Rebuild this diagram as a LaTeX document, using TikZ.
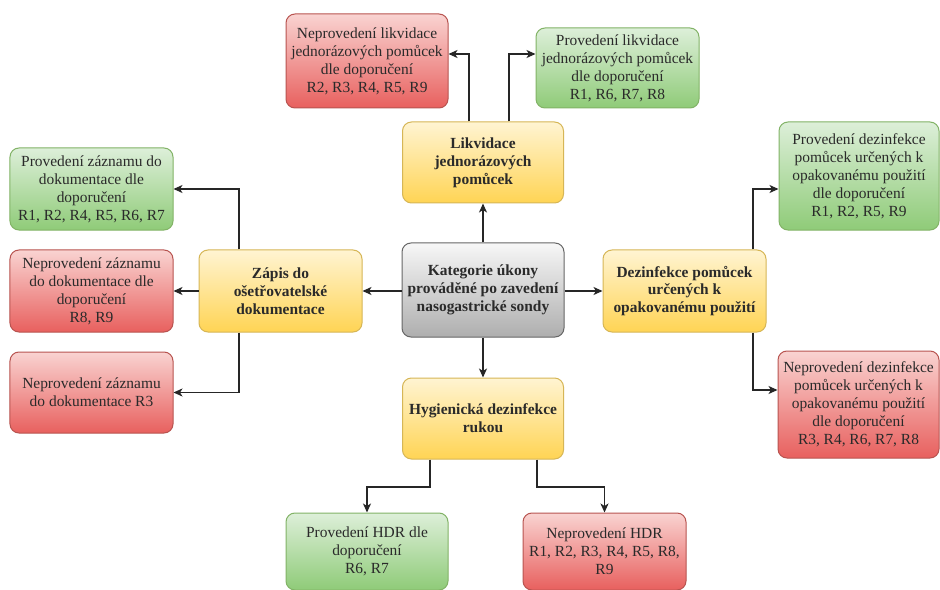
\documentclass[tikz,border=0pt]{standalone}
\usepackage{fontspec}
\setmainfont{Liberation Serif}[BoldFont={Liberation Serif Bold}]
\newfontfamily\tms{Liberation Serif}[BoldFont={Liberation Serif Bold}]
\usetikzlibrary{arrows.meta}
\definecolor{gtop}{HTML}{DDEFD9}
\definecolor{gbot}{HTML}{8FCB78}
\definecolor{gline}{HTML}{82B366}
\definecolor{rtop}{HTML}{F9D3D1}
\definecolor{rbot}{HTML}{E8605E}
\definecolor{rline}{HTML}{B85450}
\definecolor{ytop}{HTML}{FFF4D2}
\definecolor{ybot}{HTML}{FFD454}
\definecolor{yline}{HTML}{D6B656}
\definecolor{ktop}{HTML}{F7F7F7}
\definecolor{kbot}{HTML}{AEAEAE}
\definecolor{kline}{HTML}{666666}
\definecolor{txt}{HTML}{2A2A2A}
\tikzset{
  box/.style={rounded corners=9bp, line width=1bp, align=center, inner sep=1bp,
    text=txt, font=\tms\fontsize{15.5}{18}\selectfont},
  gbox/.style={box, draw=gline, top color=gtop, bottom color=gbot},
  rbox/.style={box, draw=rline, top color=rtop, bottom color=rbot},
  ybox/.style={box, draw=yline, top color=ytop, bottom color=ybot, font=\tms\fontsize{15.5}{18}\selectfont\bfseries},
  kbox/.style={box, draw=kline, top color=ktop, bottom color=kbot, font=\tms\fontsize{15.5}{18}\selectfont\bfseries},
  arr/.style={line width=1.4bp, draw=black!85, -{Stealth[length=9bp,width=8bp,inset=2.5bp]}},
}
\begin{document}
\begin{tikzpicture}[x=1bp,y=-1bp]
\useasboundingbox[fill=white] (0,0) rectangle (940,590);
% nodes
\node[rbox, minimum width=162bp, minimum height=94bp] (topred) at (367,61)
  {Neprovedení likvidace\\jednorázových pomůcek\\dle doporučení\\R2, R3, R4, R5, R9};
\node[gbox, minimum width=163bp, minimum height=80bp] (topgreen) at (617.5,68)
  {Provedení likvidace\\jednorázových pomůcek\\dle doporučení\\R1, R6, R7, R8};
\node[ybox, minimum width=161bp, minimum height=81bp] (lik) at (483,162.5)
  {Likvidace\\jednorázových\\pomůcek};
\node[kbox, minimum width=162bp, minimum height=94bp] (center) at (483,290)
  {Kategorie úkony\\prováděné po zavedení\\nasogastrické sondy};
\node[ybox, minimum width=163bp, minimum height=82bp] (zap) at (280.5,291)
  {Zápis do\\ošetřovatelské\\dokumentace};
\node[gbox, minimum width=163bp, minimum height=82bp] (lgreen) at (91.5,189)
  {Provedení záznamu do\\dokumentace dle\\doporučení\\R1, R2, R4, R5, R6, R7};
\node[rbox, minimum width=163bp, minimum height=82bp] (lred1) at (91.5,291)
  {Neprovedení záznamu\\do dokumentace dle\\doporučení\\R8, R9};
\node[rbox, minimum width=163bp, minimum height=81bp] (lred2) at (91.5,392.5)
  {Neprovedení záznamu\\do dokumentace R3};
\node[ybox, minimum width=163bp, minimum height=82bp] (dez) at (684.5,291)
  {Dezinfekce pomůcek\\určených k\\opakovanému použití};
\node[gbox, minimum width=160bp, minimum height=108bp] (rgreen) at (859,176)
  {Provedení dezinfekce\\pomůcek určených k\\opakovanému použití\\dle doporučení\\R1, R2, R5, R9};
\node[rbox, minimum width=161bp, minimum height=107bp] (rred) at (858.5,404.5)
  {Neprovedení dezinfekce\\pomůcek určených k\\opakovanému použití\\dle doporučení\\R3, R4, R6, R7, R8};
\node[ybox, minimum width=161bp, minimum height=81bp] (hyg) at (483,418.5)
  {Hygienická dezinfekce\\rukou};
\node[gbox, minimum width=162bp, minimum height=77bp] (bgreen) at (367,551.5)
  {Provedení HDR dle\\doporučení\\R6, R7};
\node[rbox, minimum width=163bp, minimum height=77bp] (bred) at (604.5,551.5)
  {Neprovedení HDR\\R1, R2, R3, R4, R5, R8,\\R9};
% connectors from center
\draw[arr] (center.north) -- (lik.south);
\draw[arr] (center.west |- zap.east) -- (zap.east);
\draw[arr] (center.east |- dez.west) -- (dez.west);
\draw[arr] (center.south) -- (hyg.north);
% likvidace
\draw[arr] ([xshift=-14bp]lik.north) |- ([yshift=7bp]topred.east);
\draw[arr] ([xshift=26bp]lik.north) |- ([yshift=14bp]topgreen.west);
% zapis
\draw[arr] ([xshift=-41.5bp]zap.north) |- (lgreen.east);
\draw[arr] (zap.west) -- (lred1.east);
\draw[arr] ([xshift=-41.5bp]zap.south) |- (lred2.east);
% dezinfekce
\draw[arr] ([xshift=68.5bp]dez.north) |- ([yshift=-13bp]rgreen.west);
\draw[arr] ([xshift=68.5bp]dez.south) |- ([yshift=14.5bp]rred.west);
% hygiena
\coordinate (hl) at ([xshift=-53bp]hyg.south);
\coordinate (hr) at ([xshift=54bp]hyg.south);
\draw[arr] (hl) -- (hl |- 0,487) -| (bgreen.north);
\draw[arr] (hr) -- (hr |- 0,487) -| (bred.north);
\end{tikzpicture}
\end{document}
